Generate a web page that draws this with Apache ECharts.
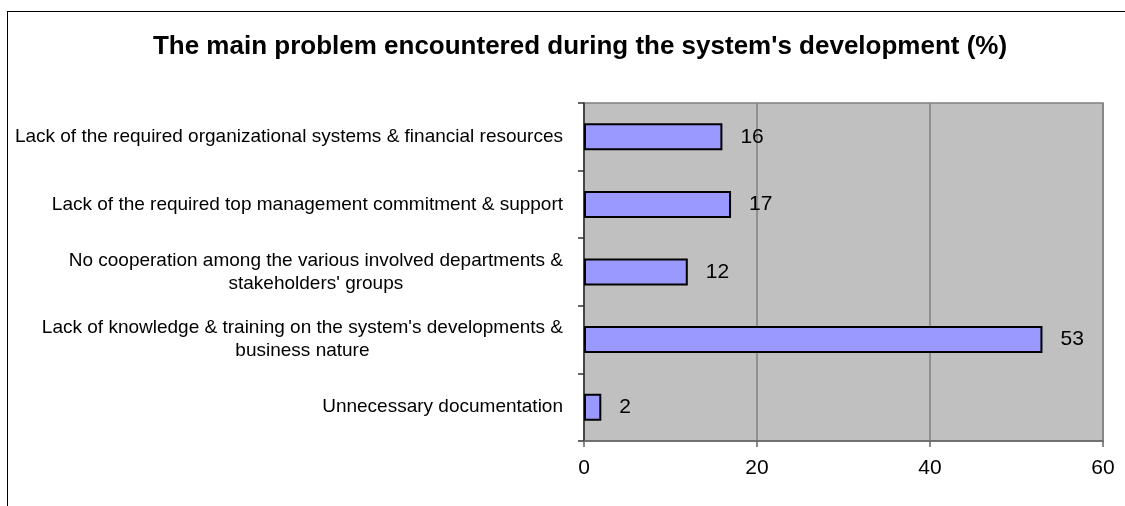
<!DOCTYPE html>
<html>
<head>
<meta charset="utf-8">
<script src="https://cdn.jsdelivr.net/npm/echarts@6/dist/echarts.min.js"></script>
<style>
  html, body { margin: 0; padding: 0; background: #fff; }
  #chart {
    position: absolute; left: 0; top: 0;
    width: 1125px; height: 506px;
  }
  #frame {
    position: absolute; left: 7px; top: 11px; right: -2px; bottom: -2px;
    border-left: 1.5px solid #000; border-top: 1.5px solid #000;
    pointer-events: none;
  }
</style>
</head>
<body>
<div id="chart"></div>
<div id="frame"></div>
<script>
// Problems reported, listed top to bottom
const categories = [
  "Lack of the required organizational systems & financial resources",
  "Lack of the required top management commitment & support",
  "No cooperation among the various involved departments &\nstakeholders' groups",
  "Lack of knowledge & training on the system's developments &\nbusiness nature",
  "Unnecessary documentation"
];
const percentages = [16, 17, 12, 53, 2];
const xTicks = [0, 20, 40, 60];

const chart = echarts.init(document.getElementById('chart'), null, { renderer: 'canvas' });
const font = 'Liberation Sans, Arial, sans-serif';

chart.setOption({
  animation: false,
  backgroundColor: 'transparent',
  textStyle: { fontFamily: font },
  title: {
    text: "The main problem encountered during the system's development (%)",
    left: 575, top: 29, textAlign: 'center',
    textStyle: { fontFamily: font, fontSize: 26, fontWeight: 'bold', color: '#000' }
  },
  grid: {
    left: 584, top: 103, right: 22, bottom: 65,
    show: true, backgroundColor: '#c0c0c0',
    borderColor: '#808080', borderWidth: 1.5,
    containLabel: false
  },
  xAxis: {
    type: 'value',
    min: xTicks[0], max: xTicks[xTicks.length - 1], interval: 20,
    axisLine: { show: true, lineStyle: { color: '#666', width: 1.5 } },
    axisTick: { show: true, length: 6, inside: false, lineStyle: { color: '#666', width: 1.5 } },
    splitLine: { show: true, lineStyle: { color: '#808080', width: 1.5 } },
    axisLabel: { fontSize: 21, color: '#000', margin: 17, fontFamily: font }
  },
  yAxis: {
    type: 'category',
    inverse: true,
    data: categories,
    axisLine: { show: true, lineStyle: { color: '#333', width: 1.5 } },
    axisTick: { show: true, length: 6, inside: false, lineStyle: { color: '#333', width: 1.5 } },
    splitLine: { show: false },
    axisLabel: {
      margin: 21,
      align: 'right',
      color: '#000',
      formatter: v => v.split('\n').map(l => '{c|' + l + '}').join('\n'),
      rich: { c: { align: 'center', fontSize: 19, lineHeight: 23, color: '#000', fontFamily: font } }
    }
  },
  series: [{
    type: 'bar',
    data: percentages,
    barWidth: '40%',
    itemStyle: { color: '#9999ff', borderColor: '#000', borderWidth: 2 },
    label: {
      show: true, position: 'right', distance: 18,
      fontSize: 21, color: '#000', fontFamily: font
    }
  }]
});
</script>
</body>
</html>
